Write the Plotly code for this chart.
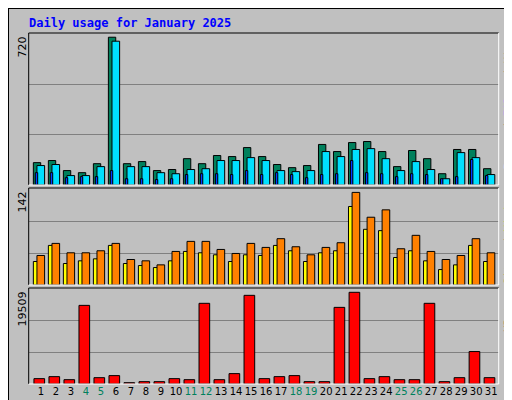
import plotly.graph_objects as go

days = list(range(1, 32))
weekend = [4, 5, 11, 12, 18, 19, 25, 26]

hits = [107, 117, 69, 59, 102, 707, 102, 112, 69, 74, 126, 102, 141, 136, 179, 136,
        98, 83, 93, 194, 160, 203, 208, 160, 88, 165, 126, 54, 170, 170, 78]
files = [93, 98, 45, 45, 88, 688, 88, 88, 59, 54, 74, 78, 117, 117, 131, 117,
         69, 64, 69, 160, 136, 170, 174, 126, 69, 112, 74, 30, 155, 131, 50]
pages = [59, 59, 35, 40, 40, 69, 30, 30, 26, 30, 50, 54, 54, 50, 69, 50,
         59, 50, 35, 50, 54, 117, 59, 54, 40, 54, 50, 30, 40, 122, 45]
sites = [35, 59, 32, 36, 39, 59, 32, 29, 26, 36, 50, 48, 45, 35, 45, 44,
         59, 51, 35, 48, 51, 117, 83, 81, 41, 51, 36, 23, 30, 59, 35]
visits = [44, 62, 48, 48, 51, 62, 38, 36, 30, 50, 65, 65, 53, 47, 62, 56,
          69, 57, 45, 56, 63, 138, 101, 112, 54, 74, 50, 38, 44, 69, 48]
kbytes = [1100, 1510, 890, 16140, 1300, 1720, 270, 480, 480, 1100, 890, 16560, 890, 2130,
          18200, 1100, 1510, 1720, 480, 480, 15730, 18820, 1100, 1510, 890, 890, 16560,
          480, 1300, 6660, 1300]

max_hits, max_visits, max_kb = 720, 142, 19509

BG = "#c0c0c0"
line = dict(color="black", width=1)

fig = go.Figure()
fig.add_trace(go.Bar(x=days, y=hits, width=0.49, offset=-0.51, marker=dict(color="#00805c", line=line)))
fig.add_trace(go.Bar(x=days, y=files, width=0.51, offset=-0.27, marker=dict(color="#00e0ff", line=line)))
fig.add_trace(go.Bar(x=days, y=pages, width=0.16, offset=-0.38, marker=dict(color="#0040ff", line=line)))
fig.add_trace(go.Bar(x=days, y=sites, width=0.29, offset=-0.51, marker=dict(color="#ffff00", line=line),
                     xaxis="x2", yaxis="y2"))
fig.add_trace(go.Bar(x=days, y=visits, width=0.51, offset=-0.27, marker=dict(color="#ff8000", line=line),
                     xaxis="x2", yaxis="y2"))
fig.add_trace(go.Bar(x=days, y=kbytes, width=0.71, offset=-0.47, marker=dict(color="#ff0000", line=line),
                     xaxis="x3", yaxis="y3"))

xr = [0.18, 31.5]
xd = [20.7 / 512, 490.7 / 512]
ticktext = [f"<span style='color:#00805c'>{d}</span>" if d in weekend else str(d) for d in days]

doms = [[1 - 177 / 400, 1 - 25 / 400], [1 - 277 / 400, 1 - 180 / 400], [1 - 376 / 400, 1 - 280 / 400]]
tops = [max_hits * 1.01, max_visits * 1.018, max_kb * 1.01]
maxes = [max_hits, max_visits, max_kb]

layout_axes = {}
for i, (dom, top, m) in enumerate(zip(doms, tops, maxes)):
    sfx = "" if i == 0 else str(i + 1)
    layout_axes["xaxis" + sfx] = dict(range=xr, domain=xd, anchor="y" + sfx, showgrid=False,
                                      zeroline=False, automargin=False,
                                      showticklabels=(i == 2), tickvals=days, ticktext=ticktext,
                                      ticks="", tickangle=0,
                                      tickfont=dict(size=10, color="black", family="DejaVu Sans"))
    layout_axes["yaxis" + sfx] = dict(range=[0, top], domain=dom, anchor="x" + sfx, automargin=False,
                                      showticklabels=False, ticks="", tickvals=[m / 3, m * 2 / 3],
                                      showgrid=True, gridcolor="#808080", zeroline=False)

fig.update_layout(
    width=512, height=400, margin=dict(l=0, r=0, t=0, b=0),
    paper_bgcolor=BG, plot_bgcolor=BG, showlegend=False, barmode="overlay",
    font=dict(family="DejaVu Sans Mono", color="black"),
    **layout_axes,
)

shapes = [dict(type="rect", xref="paper", yref="paper", x0=0, x1=1, y0=0, y1=1,
               line=dict(color="black", width=2))]
for dom in doms:
    shapes.append(dict(type="line", xref="paper", yref="paper", x0=xd[0], x1=xd[0], y0=dom[0], y1=dom[1],
                       line=dict(color="black", width=1)))
    shapes.append(dict(type="line", xref="paper", yref="paper", x0=xd[0], x1=xd[1], y0=dom[1], y1=dom[1],
                       line=dict(color="black", width=1)))
    shapes.append(dict(type="line", xref="paper", yref="paper", x0=xd[1], x1=xd[1], y0=dom[0], y1=dom[1],
                       line=dict(color="white", width=1)))
    shapes.append(dict(type="line", xref="paper", yref="paper", x0=xd[0], x1=xd[1], y0=dom[0], y1=dom[0],
                       line=dict(color="white", width=1)))
fig.update_layout(shapes=shapes)

fig.add_annotation(text="<b>Daily usage for January 2025</b>", xref="paper", yref="paper",
                   x=19 / 512, y=1 - 15 / 400, xanchor="left", yanchor="middle", showarrow=False,
                   font=dict(size=12, color="#0000ff", family="DejaVu Sans Mono"))

for dom, m in zip(doms, maxes):
    fig.add_annotation(text=str(m), xref="paper", yref="paper", x=14 / 512, y=dom[1] - 2 / 400,
                       xanchor="center", yanchor="top", textangle=-90, showarrow=False,
                       font=dict(size=11, color="black", family="DejaVu Sans"))

right = [
    "<span style='color:#00e0ff'>Pages</span> / <span style='color:#0040ff'>Files</span> / "
    "<span style='color:#00805c'>Hits</span>",
    "<span style='color:#ff8000'>Sites</span> / <span style='color:#ffff00'>Visits</span>",
    "<span style='color:#ff0000'>KBytes</span>",
]
for dom, t in zip(doms, right):
    fig.add_annotation(text=t, xref="paper", yref="paper", x=500 / 512, y=dom[1] - 2 / 400,
                       xanchor="center", yanchor="top", textangle=-90, showarrow=False,
                       font=dict(size=11, color="black", family="DejaVu Sans Mono"))

fig.write_html("out.html")
